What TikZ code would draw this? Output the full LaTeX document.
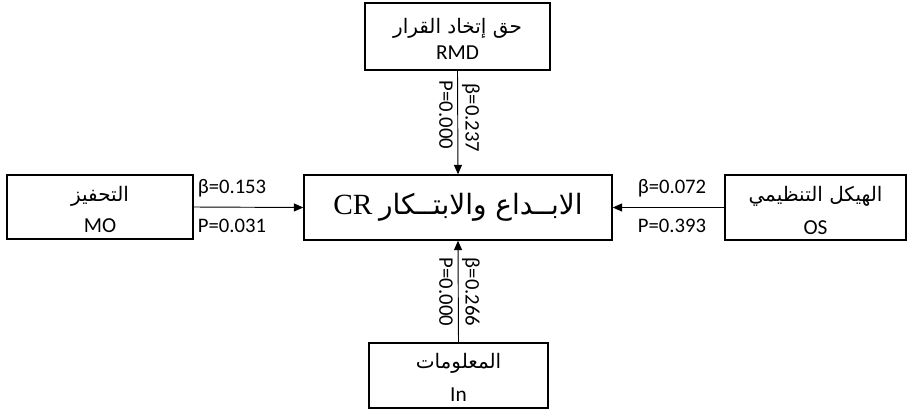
\documentclass[tikz,border=0pt]{standalone}
\usepackage{fontspec}
\setmainfont{Carlito}
\newfontfamily\arabicfont[Script=Arabic]{DejaVu Sans}
\newfontfamily\seriffont{Liberation Serif}
\TeXXeTstate=1
\usetikzlibrary{arrows.meta}
\begin{document}
\begin{tikzpicture}[x=0.75pt,y=-0.75pt,
  box/.style={draw,line width=1.1pt,inner sep=0pt},
  artxt/.style={inner sep=0pt,font=\arabicfont\fontsize{15}{17}\selectfont},
  latxt/.style={inner sep=0pt,font=\fontsize{16}{18}\selectfont},
  conn/.style={line width=0.7pt,-{Triangle[length=7pt,width=6pt]}},
  lbl/.style={inner sep=1pt,font=\fontsize{15.5}{17}\selectfont}]
\useasboundingbox (0,0) rectangle (908,411);
\fill[white] (0,0) rectangle (908,411);
% boxes
\node[box,minimum width=185*0.75pt,minimum height=67*0.75pt] (rmd) at (457.5,36.5) {};
\node[box,minimum width=308*0.75pt,minimum height=65*0.75pt] (cr) at (458,207.5)
  {\fontsize{22}{24}\selectfont{\seriffont CR} {\arabicfont\fontsize{21}{24}\selectfont\beginR الابــداع والابتــكار\endR}};
\node[box,minimum width=186*0.75pt,minimum height=64*0.75pt] (mo) at (100,207) {};
\node[box,minimum width=181*0.75pt,minimum height=65*0.75pt] (os) at (815.5,207.5) {};
\node[box,minimum width=179*0.75pt,minimum height=65*0.75pt] (in) at (458.5,375.5) {};
% box texts
\node[artxt] (rmdA) at ([yshift=8*0.75pt]rmd.center) {\beginR حق إتخاد القرار\endR};
\node[latxt] (rmdL) at ([yshift=-16*0.75pt]rmd.center) {RMD};
\node[artxt] (moA) at ([yshift=11*0.75pt]mo.center) {\beginR التحفيز\endR};
\node[latxt] (moL) at ([yshift=-19*0.75pt]mo.center) {MO};
\node[artxt] (osA) at ([yshift=11*0.75pt]os.center) {\beginR الهيكل التنظيمي\endR};
\node[latxt] (osL) at ([yshift=-20*0.75pt]os.center) {OS};
\node[artxt] (inA) at ([yshift=12*0.75pt]in.center) {\beginR المعلومات\endR};
\node[latxt] (inL) at ([yshift=-19*0.75pt]in.center) {In};
% connectors
\draw[conn] (rmd.south) -- (cr.north);
\draw[conn] (in.north) -- (cr.south);
\draw[conn] (mo.east) -- (cr.west);
\draw[conn] (os.west) -- (cr.east);
% labels
\node[lbl] (b1) at (232,188) {β=0.153};
\node[lbl] (p1) at (232,226) {P=0.031};
\node[lbl] (b2) at (672,188) {β=0.072};
\node[lbl] (p2) at (672,226) {P=0.393};
\node[lbl,rotate=-90] (b3) at (471,118) {β=0.237};
\node[lbl,rotate=-90] (p3) at (446,115) {P=0.000};
\node[lbl,rotate=-90] (b4) at (471,292) {β=0.266};
\node[lbl,rotate=-90] (p4) at (446,292) {P=0.000};
\end{tikzpicture}
\end{document}
